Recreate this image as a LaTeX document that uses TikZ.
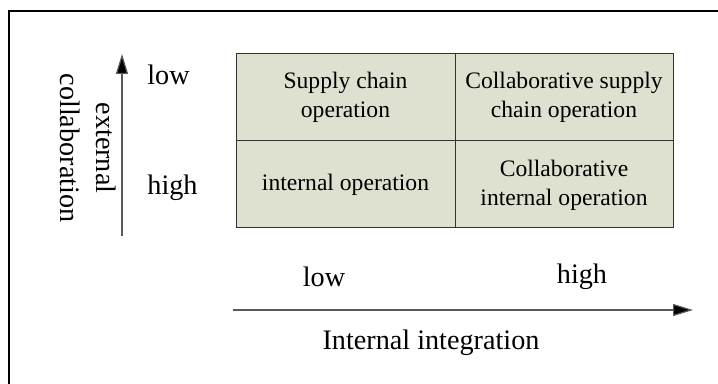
\documentclass[tikz,border=0pt]{standalone}
\usepackage{fontspec}
\setmainfont{Liberation Serif}
\usetikzlibrary{arrows.meta}
\definecolor{cellfill}{HTML}{DEE0D0}
\tikzset{
  cell/.style={draw=black!80, line width=0.5pt, fill=cellfill},
  lbl/.style={inner sep=0pt, align=center, font=\fontsize{14.1}{18}\selectfont},
  celltext/.style={inner sep=0pt, align=center, font=\fontsize{11.8}{14.5}\selectfont},
  axis/.style={draw=black!65, line width=0.6pt, -{Triangle[length=10pt,width=6pt,fill=black]}},
}
\begin{document}
\begin{tikzpicture}[x=0.5pt,y=-0.5pt]
\useasboundingbox (0,0) rectangle (718,384);
% frame (only top and left visible)
\draw[line width=1.1pt] (9,384) -- (9,11) -- (718,11);
% cells
\draw[cell] (236,54) rectangle (455,141);
\draw[cell] (455,54) rectangle (673,141);
\draw[cell] (236,141) rectangle (455,228);
\draw[cell] (455,141) rectangle (673,228);
\node[celltext] (c11) at (345.5,97.5) {Supply chain\\operation};
\node[celltext] (c12) at (564,97.5) {Collaborative supply\\chain operation};
\node[celltext] (c21) at (345.5,184.5) {internal operation};
\node[celltext] (c22) at (564,185) {Collaborative\\internal operation};
% vertical axis
\coordinate (vs) at (122,236);
\coordinate (ve) at (122,54);
\draw[axis] (vs) -- (ve);
\node[lbl, anchor=west] (vlow) at (147,75) {low};
\node[lbl, anchor=west] (vhigh) at (147,188) {high};
\node[lbl, rotate=-90] (vlab) at (88.5,148) {external\\collaboration};
% horizontal axis
\coordinate (hs) at (233,310);
\coordinate (he) at (693,310);
\draw[axis] (hs) -- (he);
\node[lbl] (hlow) at (324,277) {low};
\node[lbl] (hhigh) at (582,277) {high};
\node[lbl] (hlab) at (431,343) {Internal integration};
\end{tikzpicture}
\end{document}
